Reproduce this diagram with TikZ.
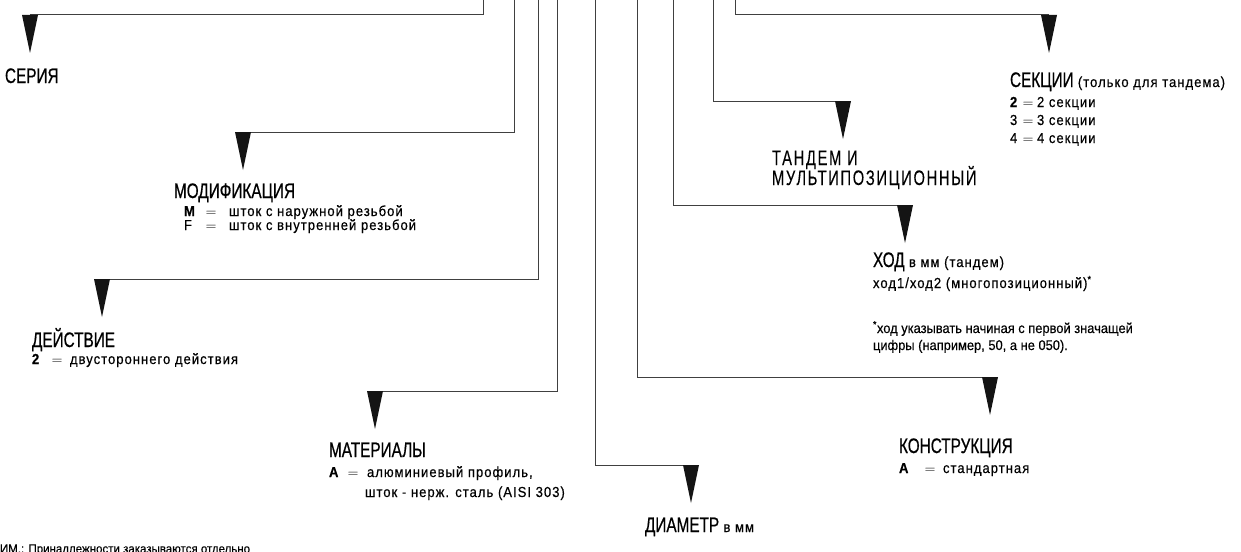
\documentclass[tikz,border=0pt]{standalone}
\usepackage{fontspec}
\setmainfont{Liberation Sans}
\newfontfamily\ttlfam[FakeStretch=0.73,FakeBold=0.6]{Liberation Sans}
\newfontfamily\ttlspfam[FakeStretch=0.7,FakeBold=0.2,LetterSpace=8]{Liberation Sans}
\newfontfamily\bdyfam[FakeStretch=0.9,FakeBold=0.4,LetterSpace=7]{Liberation Sans}
\newfontfamily\cndfam[FakeStretch=0.92,FakeBold=0.3]{Liberation Sans}
\newcommand\Ttl{\ttlfam\fontsize{21}{24}\selectfont}
\newcommand\TtlSp{\ttlspfam\fontsize{21}{24}\selectfont}
\newcommand\Bdy{\bdyfam\fontsize{14.5}{16}\selectfont}
\newcommand\Cnd{\cndfam\fontsize{14}{15}\selectfont}
\begin{document}
\begin{tikzpicture}[x=1pt,y=-1pt,
  conn/.style={draw=black!75,line width=1pt},
  tipfill/.style={fill=black!92},
  lbl/.style={anchor=base west,inner sep=0pt,outer sep=0pt},
  ttlnode/.style={lbl,font=\Ttl},
  bdynode/.style={lbl,font=\Bdy},
  eqnode/.style={anchor=base,inner sep=0pt,outer sep=0pt,font=\Bdy},
  cndnode/.style={lbl,font=\Cnd}]
\useasboundingbox (0,0) rectangle (1241,551);
\clip (0,0) rectangle (1241,551);
% sources at the top edge
\coordinate (s1) at (483,0);
\coordinate (s2) at (514,0);
\coordinate (s3) at (538,0);
\coordinate (s4) at (557,0);
\coordinate (s5) at (595,0);
\coordinate (s6) at (637,0);
\coordinate (s7) at (673,0);
\coordinate (s8) at (713,0);
\coordinate (s9) at (735,0);
% pointer tops
\coordinate (a1) at (30,15);
\coordinate (a2) at (243,132);
\coordinate (a3) at (102,279);
\coordinate (a4) at (375,391);
\coordinate (a5) at (691,465);
\coordinate (a6) at (990,377);
\coordinate (a7) at (905,205);
\coordinate (a8) at (843,101);
\coordinate (a9) at (1049,15);
\foreach \i in {1,...,9}{
  \draw[conn] (s\i) |- (a\i);
  \fill[tipfill] (a\i) ++(-8,0) -- ++(16,0) -- ++(-8,38) -- cycle;
}
% СЕРИЯ
\node[ttlnode] (serie) at (5,83) {СЕРИЯ};
% МОДИФИКАЦИЯ
\node[ttlnode] (mod) at (174,198) {МОДИФИКАЦИЯ};
\node[bdynode] (modMk) at (184,216) {\bfseries M};
\node[eqnode] (modMe) at (211,216) {$=$};
\node[bdynode] (modMv) at (229,216) {шток с наружной резьбой};
\node[bdynode] (modFk) at (184,230) {F};
\node[eqnode] (modFe) at (211,230) {$=$};
\node[bdynode] (modFv) at (229,230) {шток с внутренней резьбой};
% ДЕЙСТВИЕ
\node[ttlnode] (dej) at (32,347) {ДЕЙСТВИЕ};
\node[bdynode] (dejk) at (32,364) {\bfseries 2};
\node[eqnode] (deje) at (57,364) {$=$};
\node[bdynode] (dejv) at (70,364) {двустороннего действия};
% МАТЕРИАЛЫ
\node[ttlnode] (mat) at (329,457) {МАТЕРИАЛЫ};
\node[bdynode] (matk) at (329,477) {\bfseries A};
\node[eqnode] (mate) at (353,477) {$=$};
\node[bdynode] (matv1) at (367,477) {алюминиевый профиль,};
\node[bdynode] (matv2) at (365,497) {шток - нерж. сталь (AISI 303)};
% ДИАМЕТР
\node[ttlnode] (dia) at (645,532) {ДИАМЕТР {\Bdy в мм}};
% КОНСТРУКЦИЯ
\node[ttlnode] (kon) at (899,453) {КОНСТРУКЦИЯ};
\node[bdynode] (konk) at (899,473) {\bfseries A};
\node[eqnode] (kone) at (930,473) {$=$};
\node[bdynode] (konv) at (943,473) {стандартная};
% ХОД
\node[ttlnode] (hod) at (873,267) {ХОД {\Bdy в мм (тандем)}};
\node[bdynode] (hod2) at (873,288) {ход1/ход2 (многопозиционный)\textsuperscript{*}};
\node[cndnode] (fn1) at (873,333) {\textsuperscript{*}ход указывать начиная с первой значащей};
\node[cndnode] (fn2) at (873,350) {цифры (например, 50, а не 050).};
% ТАНДЕМ
\node[lbl,font=\TtlSp] (tan1) at (772,165) {ТАНДЕМ И};
\node[lbl,font=\TtlSp] (tan2) at (772,185) {МУЛЬТИПОЗИЦИОННЫЙ};
% СЕКЦИИ
\node[ttlnode] (sek) at (1010,87) {СЕКЦИИ {\Bdy (только для тандема)}};
\node[bdynode] (sek1k) at (1010,107) {\bfseries 2};
\node[eqnode] (sek1e) at (1028,107) {$=$};
\node[bdynode] (sek1v) at (1037,107) {2 секции};
\node[bdynode] (sek2k) at (1010,125) {3};
\node[eqnode] (sek2e) at (1028,125) {$=$};
\node[bdynode] (sek2v) at (1037,125) {3 секции};
\node[bdynode] (sek3k) at (1010,143) {4};
\node[eqnode] (sek3e) at (1028,143) {$=$};
\node[bdynode] (sek3v) at (1037,143) {4 секции};
% note
\node[cndnode,font=\cndfam\fontsize{12.5}{14}\selectfont] (note) at (0,553) {ИМ.: Принадлежности заказываются отдельно};
\end{tikzpicture}
\end{document}
